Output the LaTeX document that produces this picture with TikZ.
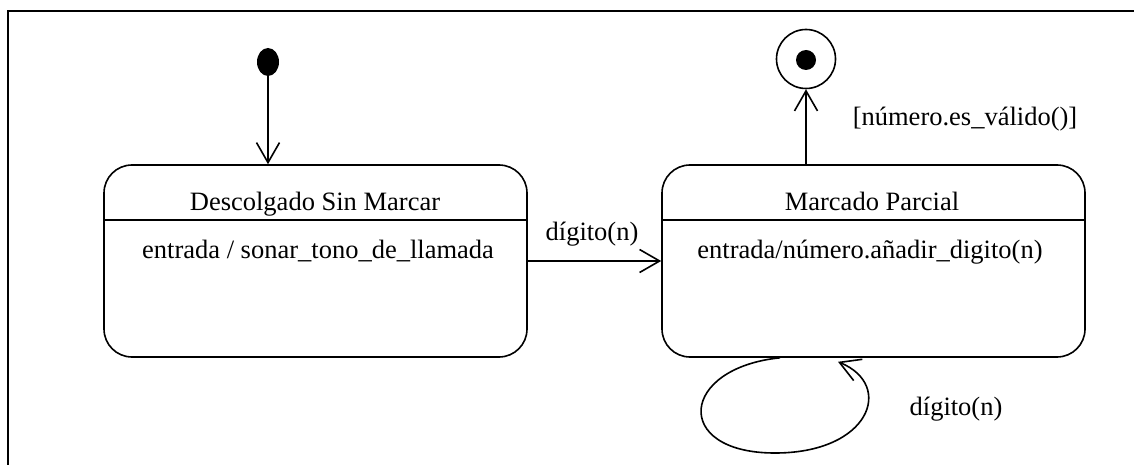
\documentclass[tikz,border=0pt]{standalone}
\usepackage{fontspec}
\setmainfont{Liberation Serif}
\usetikzlibrary{arrows.meta,calc,shapes.geometric}
\begin{document}
\begin{tikzpicture}[x=1pt,y=-1pt,
  every node/.style={font=\fontsize{26.5}{31}\selectfont, inner sep=0pt},
  statebox/.style={draw, line width=1.6pt, rounded corners=28pt, minimum width=423pt, minimum height=192pt},
  txt/.style={anchor=base},
  arr/.style={line width=1.6pt, -{Straight Barb[length=20pt,width=23pt,line width=1.6pt]}},
  ln/.style={line width=1.6pt}
]
\useasboundingbox (0,0) rectangle (1134,465);
\draw[ln] (8,465) -- (8,11) -- (1134,11);
% states
\node[statebox] (s1) at (315.5,261) {};
\node[statebox] (s2) at (873.5,261) {};
\draw[ln] ($(s1.north west)+(0,56)$) -- ($(s1.north east)+(0,56)$);
\draw[ln] ($(s2.north west)+(0,56)$) -- ($(s2.north east)+(0,56)$);
\node[txt] (t1) at (315,210) {Descolgado Sin Marcar};
\node[txt] (b1) at (318,258) {entrada / sonar\_tono\_de\_llamada};
\node[txt] (t2) at (872,210) {Marcado Parcial};
\node[txt] (b2) at (870,258) {entrada/número.añadir\_digito(n)};
% initial
\node[fill=black, ellipse, minimum width=22pt, minimum height=28pt] (init) at (268,62) {};
\draw[arr] (init) -- (init |- s1.north);
% final
\node[draw, circle, line width=1.6pt, minimum size=59pt] (fin) at (806,59) {};
\node[fill=black, circle, minimum size=20pt] (findot) at (806,60) {};
\draw[arr] (s2.north -| fin) -- (fin);
\node[txt] (g) at (965,126) {[número.es\_válido()]};
% transition
\draw[arr] (s1.east) -- (s2.west);
\node[txt] (l1) at (592,240) {dígito(n)};
% self loop
\coordinate (la) at ($(s2.south)+(-93.5,0)$);
\coordinate (lb) at ($(s2.south)+(-35.5,4)$);
\draw[arr] (la) .. controls (680,368) and (672,452) .. (773,453) .. controls (870,454) and (895,385) .. (lb);
\node[txt] (l2) at (956,415) {dígito(n)};
\end{tikzpicture}
\end{document}
